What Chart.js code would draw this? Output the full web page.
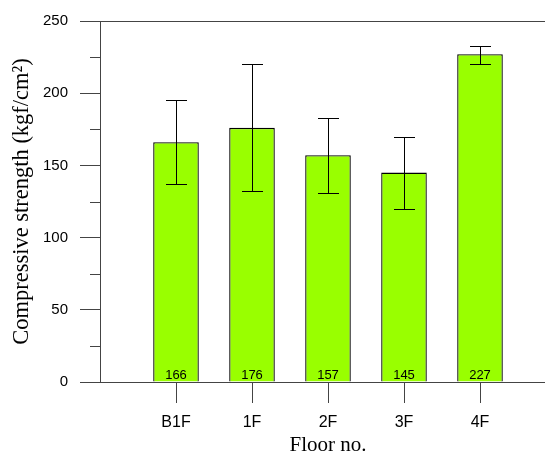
<!DOCTYPE html>
<html>
<head>
<meta charset="utf-8">
<script src="https://cdn.jsdelivr.net/npm/chart.js@4/dist/chart.umd.min.js"></script>
<style>
  html, body { margin: 0; padding: 0; background: #fff; overflow: hidden; width: 545px; height: 453px; }
  canvas { display: block; }
</style>
</head>
<body>
<canvas id="c" width="556" height="460"></canvas>
<script>
// ---- data ----
const categories = ['B1F', '1F', '2F', '3F', '4F'];
const positions = [1, 2, 3, 4, 5];
const strength = [166, 176, 157, 145, 227];
const errLow = [137, 132, 131, 120, 220];
const errHigh = [195, 220, 182.5, 169.5, 233];
const yMajorTicks = [0, 50, 100, 150, 200, 250];
const yMinorTicks = [25, 75, 125, 175, 225];

const AXIS = '#444444';

const extras = {
  id: 'extras',
  afterDraw(chart) {
    const ctx = chart.ctx;
    const x = chart.scales.x, y = chart.scales.y;
    const ca = chart.chartArea;
    ctx.save();
    // top frame line
    ctx.strokeStyle = AXIS;
    ctx.lineWidth = 1;
    ctx.beginPath();
    const ty = Math.round(ca.top) + 0.5;
    ctx.moveTo(ca.left, ty);
    ctx.lineTo(ca.right, ty);
    ctx.stroke();
    // minor y ticks
    ctx.beginPath();
    yMinorTicks.forEach(v => {
      const py = Math.round(y.getPixelForValue(v)) + 0.5;
      ctx.moveTo(ca.left - 10, py);
      ctx.lineTo(ca.left, py);
    });
    ctx.stroke();
    // error bars
    ctx.strokeStyle = '#000';
    ctx.beginPath();
    positions.forEach((p, i) => {
      const px = Math.round(x.getPixelForValue(p)) + 0.5;
      const yh = Math.round(y.getPixelForValue(errHigh[i])) + 0.5;
      const yl = Math.round(y.getPixelForValue(errLow[i])) + 0.5;
      ctx.moveTo(px, yh); ctx.lineTo(px, yl);
      ctx.moveTo(px - 10.5, yh); ctx.lineTo(px + 10.5, yh);
      ctx.moveTo(px - 10.5, yl); ctx.lineTo(px + 10.5, yl);
    });
    ctx.stroke();
    // value labels
    ctx.fillStyle = '#000';
    ctx.font = '13px "Liberation Sans", Arial, sans-serif';
    ctx.textAlign = 'center';
    ctx.textBaseline = 'alphabetic';
    positions.forEach((p, i) => {
      ctx.fillText(String(strength[i]), x.getPixelForValue(p), y.getPixelForValue(0) - 3);
    });
    ctx.restore();
  }
};

new Chart(document.getElementById('c'), {
  type: 'bar',
  data: {
    datasets: [{
      data: positions.map((p, i) => ({ x: p, y: strength[i] })),
      backgroundColor: '#99ff00',
      borderColor: '#000',
      borderWidth: 1.3,
      barPercentage: 0.6,
      categoryPercentage: 1.0
    }]
  },
  options: {
    responsive: false,
    animation: false,
    layout: { padding: { top: 19, left: 0, right: 0, bottom: 0 } },
    plugins: { legend: { display: false }, tooltip: { enabled: false } },
    scales: {
      x: {
        type: 'linear',
        min: 0,
        max: 6,
        offset: false,
        position: 'bottom',
        afterBuildTicks: s => { s.ticks = positions.map(v => ({ value: v })); },
        afterFit: s => { s.height = 78; },
        grid: { offset: false, drawOnChartArea: false, tickLength: 21, color: AXIS },
        border: { color: AXIS },
        ticks: {
          color: '#000',
          padding: 10,
          maxRotation: 0,
          font: { family: '"Liberation Sans", Arial, sans-serif', size: 16 },
          callback: v => categories[positions.indexOf(v)] ?? ''
        },
        title: {
          display: true,
          text: 'Floor no.',
          color: '#000',
          font: { family: '"Liberation Serif", "Times New Roman", serif', size: 21 },
          padding: { top: 0, bottom: 2.4 }
        }
      },
      y: {
        min: 0,
        max: 250,
        afterBuildTicks: s => { s.ticks = yMajorTicks.map(v => ({ value: v })); },
        afterFit: s => { s.width = 100; },
        grid: { drawOnChartArea: false, tickLength: 20, color: AXIS },
        border: { color: AXIS },
        ticks: {
          color: '#000',
          padding: 12,
          font: { family: '"Liberation Sans", Arial, sans-serif', size: 15 }
        },
        title: {
          display: true,
          text: 'Compressive strength (kgf/cm²)',
          color: '#000',
          font: { family: '"Liberation Serif", "Times New Roman", serif', size: 22.5 },
          padding: { top: 8.5, bottom: 0 }
        }
      }
    }
  },
  plugins: [extras]
});
</script>
</body>
</html>
